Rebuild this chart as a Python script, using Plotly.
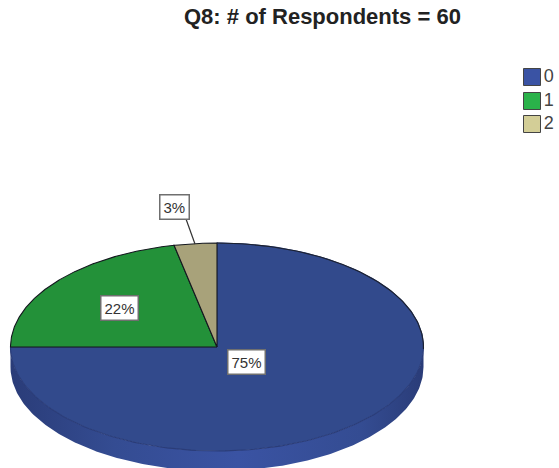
import numpy as np
import plotly.graph_objects as go

categories = ["0", "1", "2"]
counts = [45, 13, 2]
pct_labels = ["75%", "22%", "3%"]
title_text = "Q8: # of Respondents = 60"

top_colors = ["#324A8C", "#239139", "#A8A27A"]
legend_colors = ["#3A53A4", "#2AB24A", "#D3CE97"]

CX, CY, RX, RY, DEPTH = 217, 347, 206.5, 104, 20
W, H = 559, 468


def pt(theta, dy=0.0):
    return CX + RX * np.cos(theta), CY - RY * np.sin(theta) + dy


fig = go.Figure()

# Rim of the disc with a horizontal gradient
th = np.linspace(np.pi, 2 * np.pi, 240)
x0, y0 = pt(th)
x1, y1 = pt(th[::-1], DEPTH)
fig.add_trace(go.Scatter(
    x=np.r_[x0, x1], y=np.r_[y0, y1], mode="lines", fill="toself",
    line=dict(width=0),
    fillgradient=dict(type="horizontal", colorscale=[
        [0, "#2A3C78"], [0.25, "#344C92"], [0.55, "#3A53A3"],
        [0.85, "#344C92"], [1, "#2A3C78"]]),
    hoverinfo="skip", showlegend=False))

# Top face: wedges run clockwise from 12 o'clock
start = np.pi / 2
total = sum(counts)
for i, (name, value, color) in enumerate(zip(categories, counts, top_colors)):
    sweep = 2 * np.pi * value / total
    th = np.linspace(start, start - sweep, 200)
    x, y = pt(th)
    # The large wedge's front edge melts into the rim; only its back edge is dark
    edge = "#2A3C78" if i == 0 else "#14181f"
    fig.add_trace(go.Scatter(
        x=np.r_[CX, x, CX], y=np.r_[CY, y, CY], mode="lines", fill="toself",
        fillcolor=color, line=dict(color=edge, width=1.1),
        name=name, showlegend=False, hoverinfo="name"))
    start -= sweep

# Dark outline along the back right of the disc
bx, by = pt(np.linspace(np.pi / 2, -0.02, 120))
fig.add_trace(go.Scatter(
    x=bx, y=by, mode="lines", line=dict(color="#1c2230", width=1.1),
    hoverinfo="skip", showlegend=False))

# Leader line for the smallest slice
fig.add_trace(go.Scatter(
    x=[186, 195], y=[219, 244], mode="lines",
    line=dict(color="#333333", width=1.2), hoverinfo="skip", showlegend=False))

# Legend
fig.add_trace(go.Scatter(
    x=[532, 532, 532], y=[77, 101, 124], mode="markers+text",
    marker=dict(symbol="square", size=17, color=legend_colors,
                line=dict(color="#444444", width=1)),
    text=categories, textposition="middle right",
    textfont=dict(family="Liberation Sans", size=18, color="#444444"),
    hoverinfo="skip", showlegend=False, cliponaxis=False))

label_pos = [(174, 206.5), (119, 308), (246, 362)]
annotations = [dict(
    x=x, y=y, xref="x", yref="y", text=t, showarrow=False,
    font=dict(family="Liberation Sans", size=15, color="#333333"),
    bgcolor="white", bordercolor="#6f6f6f", borderwidth=1.5, borderpad=3)
    for t, (x, y) in zip(pct_labels[::-1], label_pos)]
annotations.append(dict(
    x=322, y=16, xref="x", yref="y", text=f"<b>{title_text}</b>", showarrow=False,
    font=dict(family="Liberation Sans", size=22, color="#222222")))

fig.update_layout(
    width=W, height=H, margin=dict(l=0, r=0, t=0, b=0),
    paper_bgcolor="white", plot_bgcolor="white",
    xaxis=dict(range=[0, W], visible=False, fixedrange=True),
    yaxis=dict(range=[H, 0], visible=False, fixedrange=True),
    annotations=annotations, showlegend=False)

fig.write_html(
    "out.html", config=dict(displayModeBar=False),
    post_script="document.body.style.margin='0';document.body.style.overflow='hidden';")
